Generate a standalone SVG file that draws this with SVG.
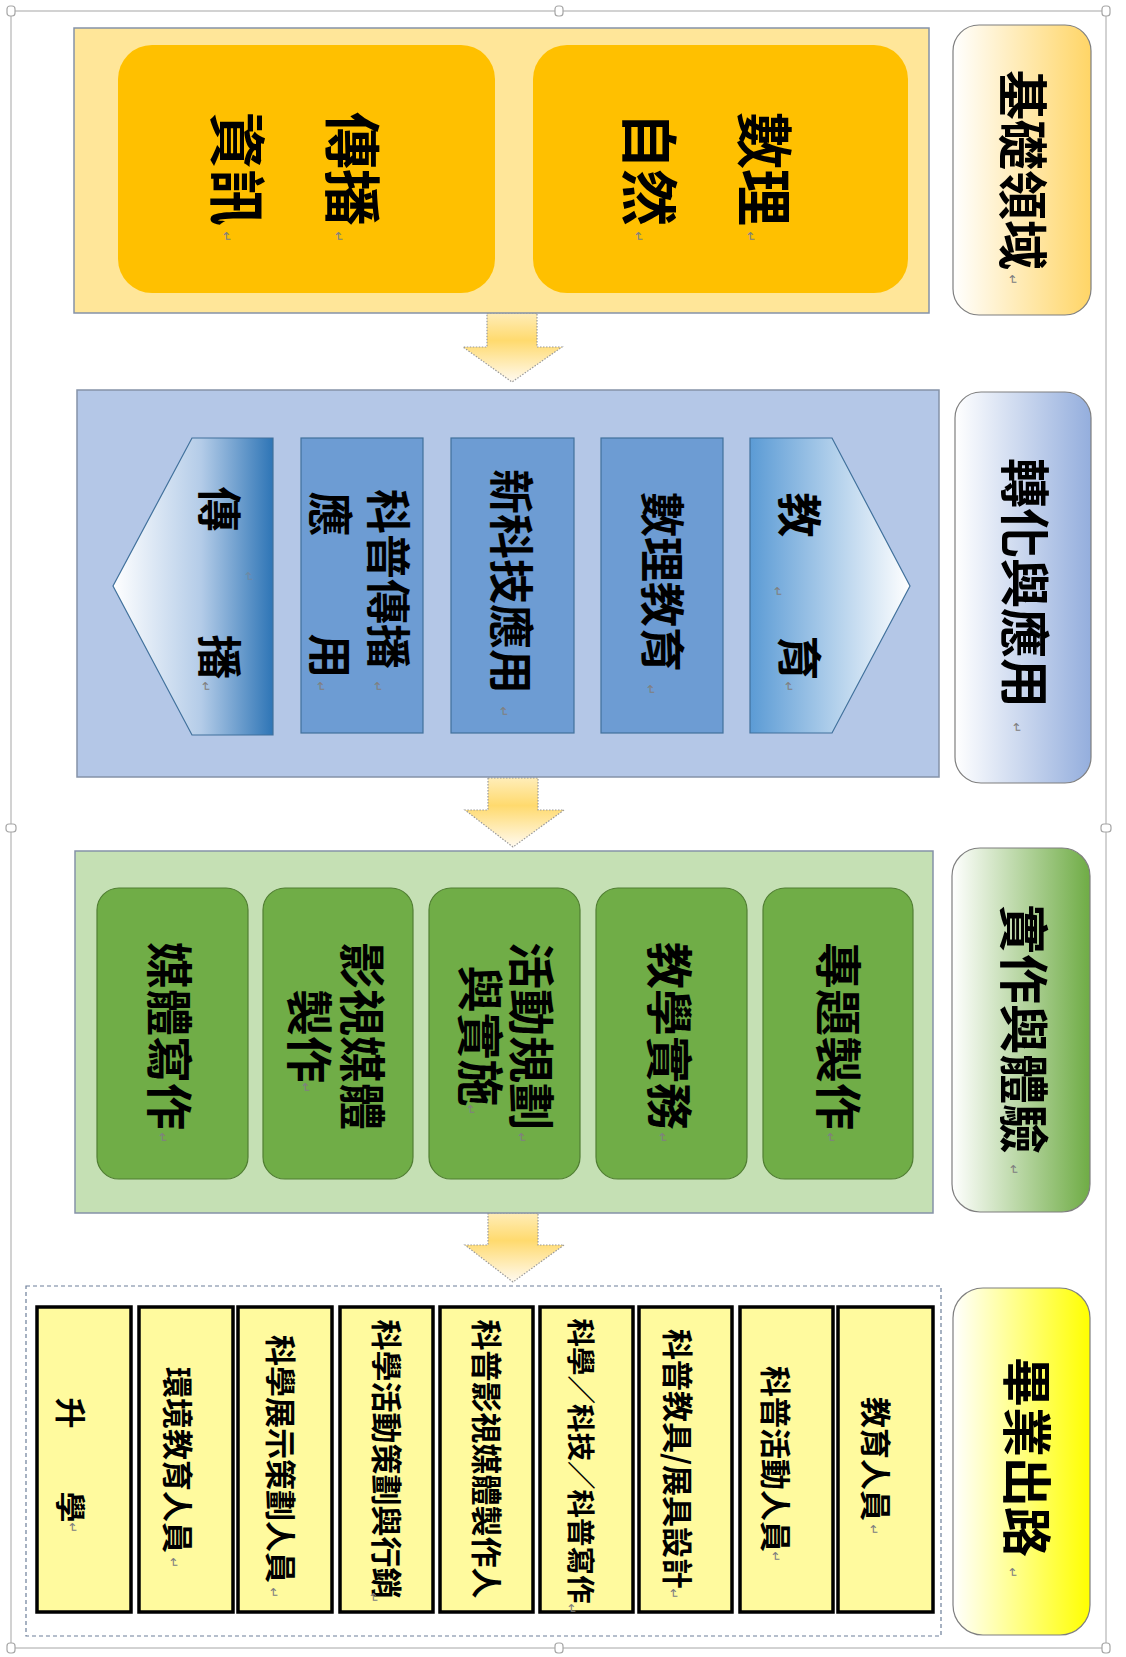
<svg xmlns="http://www.w3.org/2000/svg" width="1126" height="1657" viewBox="0 0 1126 1657">
<defs>
<style>
.t{font-family:"Noto Sans CJK TC","Noto Sans CJK SC",sans-serif;font-weight:700;fill:#000;dominant-baseline:central;}
.m{text-anchor:middle;}
.f57{font-size:57px;}
.f50{font-size:50px;}
.f45{font-size:45px;}
.f47{font-size:47px;}
.f31{font-size:31px;}
.rt{font-family:"DejaVu Sans",sans-serif;font-size:13px;fill:#808080;dominant-baseline:central;text-anchor:middle;}
.cont{stroke:#8592A8;stroke-width:1.5;}
.lab{stroke:#7F7F7F;stroke-width:1.2;}
.org{fill:#FFC000;}
.brect{fill:#6D9CD3;stroke:#41719C;stroke-width:1.2;}
.grect{fill:#70AD47;stroke:#507E32;stroke-width:1.2;}
.yrect{fill:#FFFA9E;stroke:#000;stroke-width:3.5;}
.arr{stroke:#9A9A9A;stroke-width:1.2;stroke-dasharray:1.5 1.5;fill:url(#gArr);}
.hdl{fill:#fff;stroke:#A6A6A6;stroke-width:1.2;}
</style>
<linearGradient id="gL1" x1="0" y1="0" x2="1" y2="0"><stop offset="0" stop-color="#FFFFFF"/><stop offset="1" stop-color="#FFD566"/></linearGradient>
<linearGradient id="gL2" x1="0" y1="0" x2="1" y2="0"><stop offset="0" stop-color="#FFFFFF"/><stop offset="1" stop-color="#94AEDD"/></linearGradient>
<linearGradient id="gL3" x1="0" y1="0" x2="1" y2="0"><stop offset="0" stop-color="#FFFFFF"/><stop offset="1" stop-color="#6FAC45"/></linearGradient>
<linearGradient id="gL4" x1="0" y1="0" x2="1" y2="0"><stop offset="0" stop-color="#FFFFFF"/><stop offset="1" stop-color="#FFFF00"/></linearGradient>
<linearGradient id="gChR" gradientUnits="userSpaceOnUse" x1="750" y1="0" x2="910" y2="0"><stop offset="0" stop-color="#5B9BD5"/><stop offset="1" stop-color="#FFFFFF"/></linearGradient>
<linearGradient id="gChL" gradientUnits="userSpaceOnUse" x1="113" y1="0" x2="273" y2="0"><stop offset="0" stop-color="#FFFFFF"/><stop offset="0.55" stop-color="#B4CCE8"/><stop offset="1" stop-color="#2E75B6"/></linearGradient>
<linearGradient id="gArr" x1="0" y1="0" x2="0" y2="1"><stop offset="0" stop-color="#FFEDB8"/><stop offset="0.4" stop-color="#FFDA6E"/><stop offset="1" stop-color="#FFFAF0"/></linearGradient>
</defs>

<rect x="0" y="0" width="1126" height="1657" fill="#FFFFFF"/>

<g id="frame">
<rect x="11" y="11" width="1095" height="1637" fill="none" stroke="#C4C4C4" stroke-width="1.5"/>
<rect class="hdl" x="7" y="6" width="8" height="10" rx="3"/>
<rect class="hdl" x="555" y="6" width="8" height="10" rx="3"/>
<rect class="hdl" x="1102" y="6" width="8" height="10" rx="3"/>
<rect class="hdl" x="6" y="824" width="10" height="8" rx="3"/>
<rect class="hdl" x="1101" y="824" width="10" height="8" rx="3"/>
<rect class="hdl" x="7" y="1643" width="8" height="10" rx="3"/>
<rect class="hdl" x="555" y="1643" width="8" height="10" rx="3"/>
<rect class="hdl" x="1102" y="1643" width="8" height="10" rx="3"/>
</g>

<g id="connectors">
<path class="arr" d="M487,313 L537,313 L537,347 L562,347 L512,382 L463,347 L487,347 Z"/>
<path class="arr" d="M488,778 L538,778 L538,810 L564,810 L513,847 L465,810 L488,810 Z"/>
<path class="arr" d="M488,1213 L538,1213 L538,1245 L564,1245 L513,1282 L465,1245 L488,1245 Z"/>
</g>

<!-- Section 1 -->
<g id="sec1">
<rect class="cont" x="74" y="28" width="855" height="285" fill="#FFE699"/>
</g>
<g id="node-shuli-ziran">
<rect class="org" x="533" y="45" width="375" height="248" rx="34"/>
<text class="t f57" transform="translate(768,112) rotate(90)">數理</text>
<text class="t f57" transform="translate(653,112) rotate(90)">自然</text>
<text class="rt" transform="translate(750,237) rotate(90)">↵</text>
<text class="rt" transform="translate(638,237) rotate(90)">↵</text>
</g>
<g id="node-chuanbo-zixun">
<rect class="org" x="118" y="45" width="377" height="248" rx="34"/>
<text class="t f57" transform="translate(356,112) rotate(90)">傳播</text>
<text class="t f57" transform="translate(241,112) rotate(90)">資訊</text>
<text class="rt" transform="translate(338,237) rotate(90)">↵</text>
<text class="rt" transform="translate(226,237) rotate(90)">↵</text>
</g>
<g id="label1">
<rect class="lab" x="953" y="25" width="138" height="290" rx="26" fill="url(#gL1)"/>
<text class="t f50" transform="translate(1026,70) rotate(90)">基礎領域</text>
<text class="rt" transform="translate(1012,280) rotate(90)">↵</text>
</g>

<!-- Section 2 -->
<g id="sec2">
<rect class="cont" x="77" y="390" width="862" height="387" fill="#B4C7E7"/>
</g>
<g id="node-jiaoyu">
<polygon points="750,438 832,438 910,586 832,733 750,733" fill="url(#gChR)" stroke="#41719C" stroke-width="1.2"/>
<text class="t f45 m" transform="translate(801,515) rotate(90)">教</text>
<text class="t f45 m" transform="translate(801,658) rotate(90)">育</text>
<text class="rt" transform="translate(777,592) rotate(90)">↵</text>
<text class="rt" transform="translate(788,687) rotate(90)">↵</text>
</g>
<g id="node-shulijiaoyu">
<rect class="brect" x="601" y="438" width="122" height="295"/>
<text class="t f45" transform="translate(664,492) rotate(90)">數理教育</text>
<text class="rt" transform="translate(650,690) rotate(90)">↵</text>
</g>
<g id="node-xinkeji">
<rect class="brect" x="451" y="438" width="123" height="295"/>
<text class="t f45" transform="translate(513,469) rotate(90)">新科技應用</text>
<text class="rt" transform="translate(503,712) rotate(90)">↵</text>
</g>
<g id="node-kepuchuanbo">
<rect class="brect" x="301" y="438" width="122" height="295"/>
<text class="t f45" transform="translate(390,489) rotate(90)">科普傳播</text>
<text class="t f45 m" transform="translate(332,514) rotate(90)">應</text>
<text class="t f45 m" transform="translate(332,656) rotate(90)">用</text>
<text class="rt" transform="translate(377,687) rotate(90)">↵</text>
<text class="rt" transform="translate(320,687) rotate(90)">↵</text>
</g>
<g id="node-chuanbo">
<polygon points="273,438 192,438 113,586 192,735 273,735" fill="url(#gChL)" stroke="#41719C" stroke-width="1.2"/>
<text class="t f45 m" transform="translate(221,509) rotate(90)">傳</text>
<text class="t f45 m" transform="translate(221,657) rotate(90)">播</text>
<text class="rt" transform="translate(248,577) rotate(90)" fill-opacity="0.5">↵</text>
<text class="rt" transform="translate(205,687) rotate(90)">↵</text>
</g>
<g id="label2">
<rect class="lab" x="955" y="392" width="136" height="391" rx="26" fill="url(#gL2)"/>
<text class="t f50" transform="translate(1028,458) rotate(90)">轉化與應用</text>
<text class="rt" transform="translate(1016,728) rotate(90)">↵</text>
</g>

<!-- Section 3 -->
<g id="sec3">
<rect class="cont" x="75" y="851" width="858" height="362" fill="#C5E0B4"/>
</g>
<g id="node-zhuanti">
<rect class="grect" x="763" y="888" width="150" height="291" rx="22"/>
<text class="t f47 m" transform="translate(841,1036) rotate(90)">專題製作</text>
<text class="rt" transform="translate(830,1138) rotate(90)">↵</text>
</g>
<g id="node-jiaoxue">
<rect class="grect" x="596" y="888" width="151" height="291" rx="22"/>
<text class="t f47 m" transform="translate(672,1036) rotate(90)">教學實務</text>
<text class="rt" transform="translate(662,1138) rotate(90)">↵</text>
</g>
<g id="node-huodong">
<rect class="grect" x="429" y="888" width="151" height="291" rx="22"/>
<text class="t f47 m" transform="translate(534,1036) rotate(90)">活動規劃</text>
<text class="t f47 m" transform="translate(483,1036) rotate(90)">與實施</text>
<text class="rt" transform="translate(521,1138) rotate(90)">↵</text>
<text class="rt" transform="translate(470,1110) rotate(90)">↵</text>
</g>
<g id="node-yingshi">
<rect class="grect" x="263" y="888" width="150" height="291" rx="22"/>
<text class="t f47 m" transform="translate(365,1036) rotate(90)">影視媒體</text>
<text class="t f47 m" transform="translate(312,1036) rotate(90)">製作</text>
<text class="rt" transform="translate(305,1088) rotate(90)">↵</text>
</g>
<g id="node-meiti">
<rect class="grect" x="97" y="888" width="151" height="291" rx="22"/>
<text class="t f47 m" transform="translate(172,1036) rotate(90)">媒體寫作</text>
<text class="rt" transform="translate(162,1138) rotate(90)">↵</text>
</g>
<g id="label3">
<rect class="lab" x="952" y="848" width="138" height="364" rx="28" fill="url(#gL3)"/>
<text class="t f50" transform="translate(1027,904) rotate(90)">實作與體驗</text>
<text class="rt" transform="translate(1013,1170) rotate(90)">↵</text>
</g>

<!-- Section 4 -->
<g id="sec4">
<rect x="26" y="1286" width="915" height="350" fill="none" stroke="#6D7F99" stroke-width="1.2" stroke-dasharray="4 3"/>
</g>
<g id="node-jiaoyurenyuan">
<rect class="yrect" x="838" y="1307" width="95" height="305"/>
<text class="t f31 m" transform="translate(877,1459) rotate(90)">教育人員</text>
<text class="rt" transform="translate(873,1530) rotate(90)">↵</text>
</g>
<g id="node-kepuhuodong">
<rect class="yrect" x="740" y="1307" width="93" height="305"/>
<text class="t f31 m" transform="translate(777,1459) rotate(90)">科普活動人員</text>
<text class="rt" transform="translate(775,1557) rotate(90)">↵</text>
</g>
<g id="node-kepujiaoju">
<rect class="yrect" x="639" y="1307" width="93" height="305"/>
<text class="t f31 m" transform="translate(679,1459) rotate(90)">科普教具/展具設計</text>
<text class="rt" transform="translate(673,1594) rotate(90)">↵</text>
</g>
<g id="node-kexuexiezuo">
<rect class="yrect" x="540" y="1307" width="93" height="305"/>
<text class="t m" style="font-size:28.5px" transform="translate(582,1461) rotate(90)">科學／科技／科普寫作</text>
<text class="rt" transform="translate(571,1609) rotate(90)">↵</text>
</g>
<g id="node-kepuyingshi">
<rect class="yrect" x="440" y="1307" width="93" height="305"/>
<text class="t f31 m" transform="translate(488,1459) rotate(90)">科普影視媒體製作人</text>
</g>
<g id="node-kexuehuodong">
<rect class="yrect" x="340" y="1307" width="93" height="305"/>
<text class="t f31 m" transform="translate(388,1459) rotate(90)">科學活動策劃與行銷</text>
<text class="rt" transform="translate(373,1598) rotate(90)">↵</text>
</g>
<g id="node-kexuezhanshi">
<rect class="yrect" x="238" y="1307" width="94" height="305"/>
<text class="t f31 m" transform="translate(282,1459) rotate(90)">科學展示策劃人員</text>
<text class="rt" transform="translate(273,1593) rotate(90)">↵</text>
</g>
<g id="node-huanjing">
<rect class="yrect" x="139" y="1307" width="94" height="305"/>
<text class="t f31 m" transform="translate(179,1460) rotate(90)">環境教育人員</text>
<text class="rt" transform="translate(173,1563) rotate(90)">↵</text>
</g>
<g id="node-shengxue">
<rect class="yrect" x="37" y="1307" width="94" height="305"/>
<text class="t f31 m" transform="translate(72,1413) rotate(90)">升</text>
<text class="t f31 m" transform="translate(72,1507) rotate(90)">學</text>
<text class="rt" transform="translate(72,1528) rotate(90)">↵</text>
</g>
<g id="label4">
<rect class="lab" x="953" y="1288" width="137" height="347" rx="30" fill="url(#gL4)"/>
<text class="t f50" transform="translate(1030,1357) rotate(90)">畢業出路</text>
<text class="rt" transform="translate(1012,1573) rotate(90)">↵</text>
</g>
</svg>
